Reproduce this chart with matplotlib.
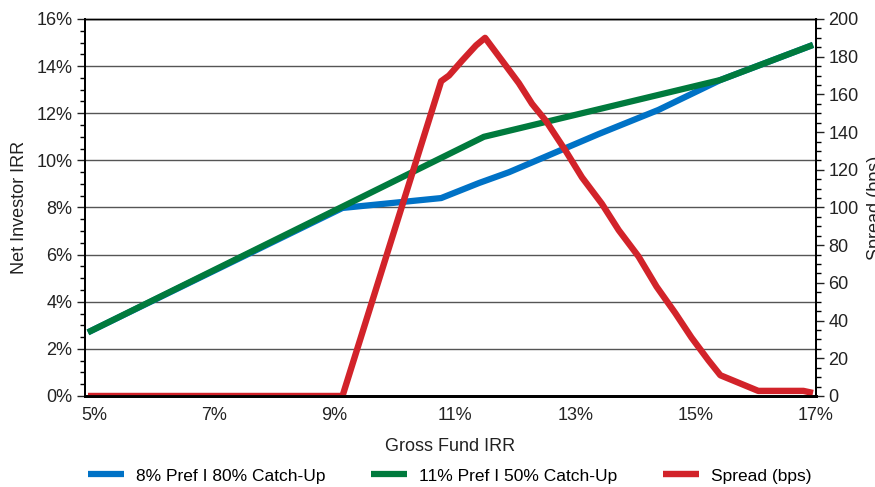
import matplotlib.pyplot as plt
from matplotlib.ticker import MultipleLocator, FuncFormatter

plt.rcParams['font.family'] = ['Liberation Sans', 'DejaVu Sans']

# Gross fund IRR (%) and net investor IRR (%) for each waterfall
irr_pref8 = [4.9, 9.13, 10.77, 11.4, 11.9, 13.39, 14.38, 15.41, 16.95]
net_pref8 = [2.7, 7.98, 8.40, 9.04, 9.5, 11.12, 12.14, 13.41, 14.9]

irr_pref11 = [4.9, 11.48, 15.41, 16.95]
net_pref11 = [2.7, 11.0, 13.41, 14.9]

# Spread between the two structures (bps)
irr_spread = [4.9, 9.13, 10.77, 10.9, 11.12, 11.35, 11.5, 11.78, 12.06, 12.28,
              12.51, 12.84, 13.11, 13.44, 13.72, 14.05, 14.35, 14.66, 14.93,
              15.21, 15.41, 16.04, 16.79, 16.95]
spread_bps = [0, 0, 167, 170, 178, 186, 190, 178, 166, 155,
              146, 130, 116, 102, 88, 74, 58, 44, 31,
              19, 11, 2.7, 2.7, 1.6]

x_ticks = [5, 7, 9, 11, 13, 15, 17]

azul = '#0072c6'
verde = '#007a3d'
vermelho = '#d2232a'

fig = plt.figure(figsize=(8.75, 4.87), dpi=100)
ax = fig.add_axes([0.0971, 0.1869, 0.8355, 0.7741])
ax2 = ax.twinx()

ax.plot(irr_pref8, net_pref8, color=azul, lw=4.5, solid_capstyle='butt', zorder=3,
        label='8% Pref I 80% Catch-Up')
ax.plot(irr_pref11, net_pref11, color=verde, lw=4.5, solid_capstyle='butt', zorder=4,
        label='11% Pref I 50% Catch-Up')
ax2.plot(irr_spread, spread_bps, color=vermelho, lw=4.6, solid_capstyle='butt',
         label='Spread (bps)')

# linha vermelha por cima das outras
ax.set_zorder(1)
ax2.set_zorder(2)
ax.patch.set_visible(True)
ax2.patch.set_visible(False)

ax.set_xlim(4.85, 17.0)
ax.set_ylim(0, 16)
ax2.set_ylim(0, 200)

ax.set_xticks(x_ticks)
ax.xaxis.set_major_formatter(FuncFormatter(lambda v, p: f'{v:.0f}%'))
ax.yaxis.set_major_locator(MultipleLocator(2))
ax.yaxis.set_minor_locator(MultipleLocator(0.5))
ax.yaxis.set_major_formatter(FuncFormatter(lambda v, p: f'{v:.0f}%'))
ax2.yaxis.set_major_locator(MultipleLocator(20))
ax2.yaxis.set_minor_locator(MultipleLocator(5))

ax.grid(axis='y', which='major', color='#555555', lw=1)
ax.set_axisbelow(True)

ax.tick_params(axis='x', length=0, pad=8, labelsize=13, colors='#222222')
ax.tick_params(axis='y', which='major', length=6, width=1, pad=3, labelsize=13,
               colors='#222222')
ax.tick_params(axis='y', which='minor', length=3.5, width=1)
ax2.tick_params(axis='y', which='major', length=6, width=1, pad=3, labelsize=13,
                colors='#222222')
ax2.tick_params(axis='y', which='minor', length=3.5, width=1)

for a in (ax, ax2):
    a.spines['left'].set_linewidth(1.3)
    a.spines['right'].set_linewidth(1.3)
    a.spines['top'].set_linewidth(1)
    a.spines['bottom'].set_linewidth(2)

ax.set_xlabel('Gross Fund IRR', fontsize=13, color='#222222', labelpad=10)
ax.set_ylabel('Net Investor IRR', fontsize=13, color='#222222', labelpad=6)
ax2.set_ylabel('Spread (bps)', fontsize=13, color='#222222', rotation=90, labelpad=6)

linhas = ax.get_lines() + ax2.get_lines()
fig.legend(linhas, [l.get_label() for l in linhas], loc='center',
           bbox_to_anchor=(0.514, 0.0226), ncol=3, frameon=False, fontsize=12.5,
           handlelength=2.1, handletextpad=0.7, columnspacing=2.6)

fig.savefig('out.png', dpi=100)
